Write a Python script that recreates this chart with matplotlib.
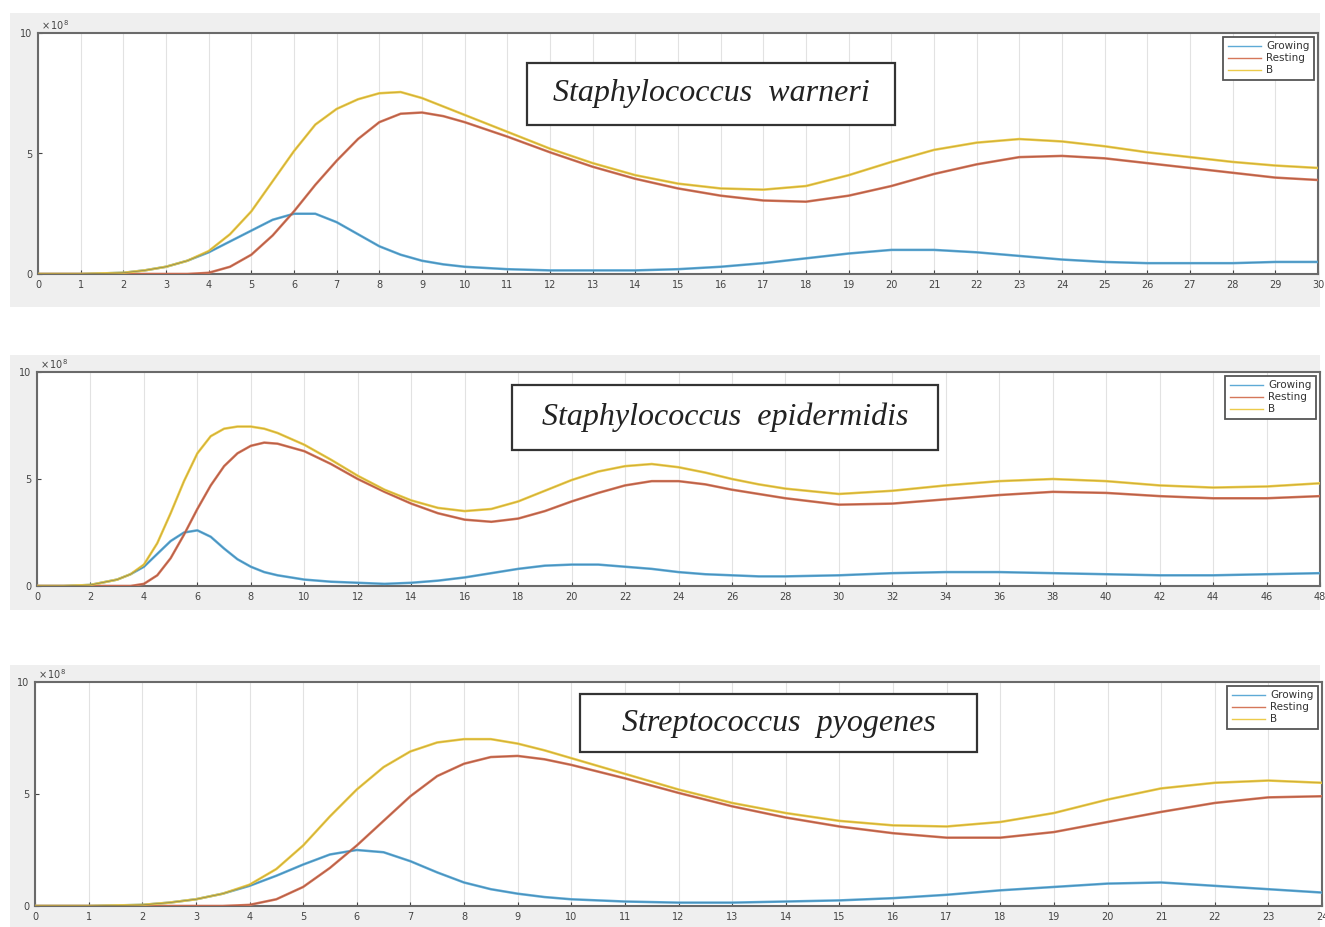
import matplotlib
matplotlib.use('Agg')
import matplotlib.pyplot as plt
from matplotlib.patches import Rectangle

# ---- data (units of 1e8) ----
x1 = [0, 1, 2, 2.5, 3, 3.5, 4, 4.5, 5, 5.5, 6, 6.5, 7, 7.5, 8, 8.5, 9, 9.5, 10,
      11, 12, 13, 14, 15, 16, 17, 18, 19, 20, 21, 22, 23, 24, 25, 26, 27, 28, 29, 30]
growing1 = [0, 0, 0.05, 0.15, 0.3, 0.55, 0.9, 1.35, 1.8, 2.25, 2.5, 2.5, 2.15, 1.65, 1.15, 0.8, 0.55, 0.4, 0.3,
            0.2, 0.15, 0.15, 0.15, 0.2, 0.3, 0.45, 0.65, 0.85, 1.0, 1.0, 0.9, 0.75, 0.6, 0.5, 0.45, 0.45, 0.45, 0.5, 0.5]
resting1 = [0, 0, 0, 0, 0, 0, 0.05, 0.3, 0.8, 1.6, 2.6, 3.7, 4.7, 5.6, 6.3, 6.65, 6.7, 6.55, 6.3,
            5.7, 5.05, 4.45, 3.95, 3.55, 3.25, 3.05, 3.0, 3.25, 3.65, 4.15, 4.55, 4.85, 4.9, 4.8, 4.6, 4.4, 4.2, 4.0, 3.9]
b1 = [0, 0, 0.05, 0.15, 0.3, 0.55, 0.95, 1.65, 2.6, 3.85, 5.1, 6.2, 6.85, 7.25, 7.5, 7.55, 7.3, 6.95, 6.6,
      5.9, 5.2, 4.6, 4.1, 3.75, 3.55, 3.5, 3.65, 4.1, 4.65, 5.15, 5.45, 5.6, 5.5, 5.3, 5.05, 4.85, 4.65, 4.5, 4.4]

x2 = [0, 1, 2, 3, 3.5, 4, 4.5, 5, 5.5, 6, 6.5, 7, 7.5, 8, 8.5, 9, 10, 11, 12, 13,
      14, 15, 16, 17, 18, 19, 20, 21, 22, 23, 24, 25, 26, 27, 28, 30, 32, 34, 36, 38,
      40, 42, 44, 46, 48]
growing2 = [0, 0, 0.05, 0.3, 0.55, 0.9, 1.5, 2.1, 2.5, 2.6, 2.3, 1.75, 1.25, 0.9, 0.65, 0.5, 0.3, 0.2, 0.15, 0.1,
            0.15, 0.25, 0.4, 0.6, 0.8, 0.95, 1.0, 1.0, 0.9, 0.8, 0.65, 0.55, 0.5, 0.45, 0.45, 0.5, 0.6, 0.65, 0.65, 0.6,
            0.55, 0.5, 0.5, 0.55, 0.6]
resting2 = [0, 0, 0, 0, 0, 0.1, 0.5, 1.3, 2.4, 3.6, 4.7, 5.6, 6.2, 6.55, 6.7, 6.65, 6.3, 5.7, 5.0, 4.4,
            3.85, 3.4, 3.1, 3.0, 3.15, 3.5, 3.95, 4.35, 4.7, 4.9, 4.9, 4.75, 4.5, 4.3, 4.1, 3.8, 3.85, 4.05, 4.25, 4.4,
            4.35, 4.2, 4.1, 4.1, 4.2]
b2 = [0, 0, 0.05, 0.3, 0.55, 1.0, 2.0, 3.4, 4.9, 6.2, 7.0, 7.35, 7.45, 7.45, 7.35, 7.15, 6.6, 5.9, 5.15, 4.5,
      4.0, 3.65, 3.5, 3.6, 3.95, 4.45, 4.95, 5.35, 5.6, 5.7, 5.55, 5.3, 5.0, 4.75, 4.55, 4.3, 4.45, 4.7, 4.9, 5.0,
      4.9, 4.7, 4.6, 4.65, 4.8]

x3 = [0, 1, 2, 2.5, 3, 3.5, 4, 4.5, 5, 5.5, 6, 6.5, 7, 7.5, 8, 8.5, 9, 9.5, 10, 11,
      12, 13, 14, 15, 16, 17, 18, 19, 20, 21, 22, 23, 24]
growing3 = [0, 0, 0.05, 0.15, 0.3, 0.55, 0.9, 1.35, 1.85, 2.3, 2.5, 2.4, 2.0, 1.5, 1.05, 0.75, 0.55, 0.4, 0.3, 0.2,
            0.15, 0.15, 0.2, 0.25, 0.35, 0.5, 0.7, 0.85, 1.0, 1.05, 0.9, 0.75, 0.6]
resting3 = [0, 0, 0, 0, 0, 0, 0.05, 0.3, 0.85, 1.7, 2.7, 3.8, 4.9, 5.8, 6.35, 6.65, 6.7, 6.55, 6.3, 5.7,
            5.05, 4.45, 3.95, 3.55, 3.25, 3.05, 3.05, 3.3, 3.75, 4.2, 4.6, 4.85, 4.9]
b3 = [0, 0, 0.05, 0.15, 0.3, 0.55, 0.95, 1.65, 2.7, 4.0, 5.2, 6.2, 6.9, 7.3, 7.45, 7.45, 7.25, 6.95, 6.6, 5.9,
      5.2, 4.6, 4.15, 3.8, 3.6, 3.55, 3.75, 4.15, 4.75, 5.25, 5.5, 5.6, 5.5]

titles = ['Staphylococcus  warneri', 'Staphylococcus  epidermidis', 'Streptococcus  pyogenes']
xmaxs = [30, 48, 24]
xsteps = [1, 2, 1]
series_names = ['Growing', 'Resting', 'B']

panels = [(x1, growing1, resting1, b1), (x2, growing2, resting2, b2), (x3, growing3, resting3, b3)]

# layout in pixels (figure 1325 x 927)
W, H = 1325.0, 927.0
ax_px = [(38, 33, 1318, 274), (37, 372, 1320, 586), (35, 682, 1322, 906)]
bg_px = [(10, 13, 1320, 307), (10, 355, 1320, 610), (10, 665, 1320, 927)]
box_px = [(527, 63, 895, 125), (512, 385, 938, 450), (580, 694, 977, 752)]

colors = ['#5eaad6', '#d5775a', '#eccb4a']
dark = ['#2f6f95', '#8a4030', '#a88a25']

fig = plt.figure(figsize=(13.25, 9.27), dpi=100)
fig.patch.set_facecolor('white')

def fig_rect(px, **kw):
    l, t, r, b = px
    return Rectangle((l / W, 1 - b / H), (r - l) / W, (b - t) / H,
                     transform=fig.transFigure, **kw)

for i in range(3):
    fig.patches.append(fig_rect(bg_px[i], facecolor='#efefef', edgecolor='none', zorder=-5))

for i in range(3):
    l, t, r, b = ax_px[i]
    ax = fig.add_axes([l / W, 1 - b / H, (r - l) / W, (b - t) / H])
    x, g, rs, bb = panels[i]
    for j, ys in enumerate([g, rs, bb]):
        ax.plot(x, ys, color=colors[j], lw=1.8, label=series_names[j], zorder=3)
        ax.plot(x, ys, color=dark[j], lw=0.5, alpha=0.6, zorder=4)
    ax.set_xlim(0, xmaxs[i])
    ax.set_ylim(0, 10)
    ax.set_xticks(range(0, xmaxs[i] + 1, xsteps[i]))
    ax.set_yticks([0, 5, 10])
    ax.tick_params(direction='in', length=3, labelsize=7, colors='#444444', pad=4)
    ax.grid(True, axis='x', color='#e2e2e2', lw=0.8)
    ax.set_axisbelow(True)
    for s in ax.spines.values():
        s.set_color('#6a6a6a')
        s.set_linewidth(1.5)
    ax.text(0.002, 1.004, r'$\times\,10^8$', transform=ax.transAxes, fontsize=7,
            color='#444444', va='bottom', ha='left')
    leg = ax.legend(loc='upper right', fontsize=7.5, fancybox=False, handlelength=3.2,
                    borderpad=0.45, labelspacing=0.2, handletextpad=0.5, framealpha=1,
                    borderaxespad=0.35)
    leg.get_frame().set_edgecolor('#555555')
    leg.get_frame().set_linewidth(1.3)
    for lh in leg.get_lines():
        lh.set_linewidth(1.0)
    for tx in leg.get_texts():
        tx.set_color('#333333')

    # species label in a plain box
    bl, bt, br, bbm = box_px[i]
    fig.patches.append(fig_rect(box_px[i], facecolor='white', edgecolor='#333333',
                                lw=1.6, zorder=9))
    fig.text((bl + br) / 2 / W, 1 - (bt + bbm) / 2 / H, titles[i], family='Liberation Serif',
             style='italic', fontsize=23, ha='center', va='center', zorder=10, color='#222222')

plt.savefig('out.png', dpi=100)
